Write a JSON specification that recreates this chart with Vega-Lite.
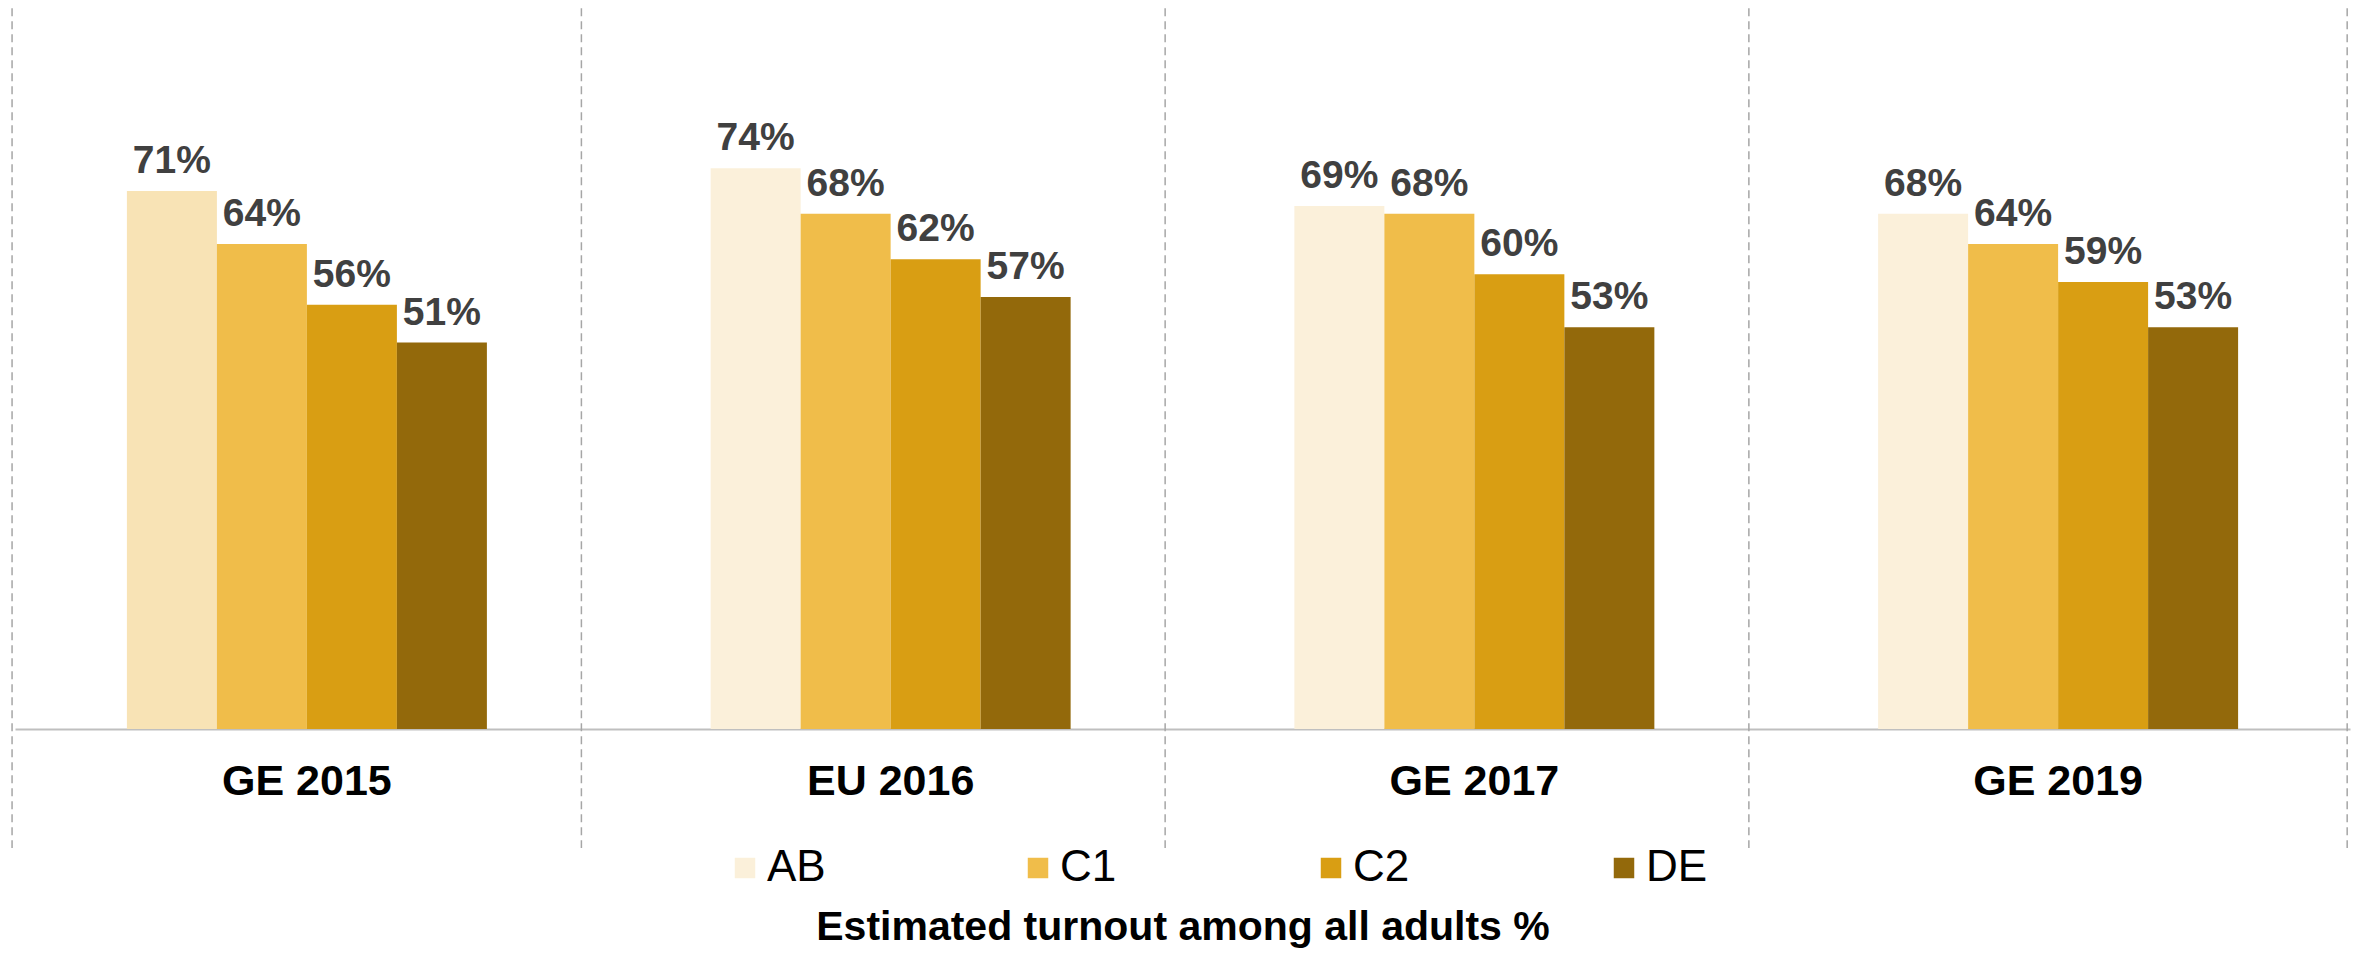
{
  "$schema": "https://vega.github.io/schema/vega-lite/v6.json",
  "autosize": {"type": "none"},
  "padding": {"left": 15, "top": 0, "right": 8, "bottom": 226},
  "width": 2335,
  "height": 729,
  "background": "white",
  "config": {
    "view": {"stroke": null},
    "font": "Liberation Sans"
  },
  "datasets": {
    "turnout": [
      {"election": "GE 2015", "group": "AB", "value": 0.71},
      {"election": "GE 2015", "group": "C1", "value": 0.64},
      {"election": "GE 2015", "group": "C2", "value": 0.56},
      {"election": "GE 2015", "group": "DE", "value": 0.51},
      {"election": "EU 2016", "group": "AB", "value": 0.74},
      {"election": "EU 2016", "group": "C1", "value": 0.68},
      {"election": "EU 2016", "group": "C2", "value": 0.62},
      {"election": "EU 2016", "group": "DE", "value": 0.57},
      {"election": "GE 2017", "group": "AB", "value": 0.69},
      {"election": "GE 2017", "group": "C1", "value": 0.68},
      {"election": "GE 2017", "group": "C2", "value": 0.60},
      {"election": "GE 2017", "group": "DE", "value": 0.53},
      {"election": "GE 2019", "group": "AB", "value": 0.68},
      {"election": "GE 2019", "group": "C1", "value": 0.64},
      {"election": "GE 2019", "group": "C2", "value": 0.59},
      {"election": "GE 2019", "group": "DE", "value": 0.53}
    ]
  },
  "encoding": {
    "x": {
      "field": "election",
      "type": "nominal",
      "sort": ["GE 2015", "EU 2016", "GE 2017", "GE 2019"],
      "scale": {"domain": ["GE 2015", "EU 2016", "GE 2017", "GE 2019"], "paddingInner": 0.3833, "paddingOuter": 0.1917},
      "axis": {
        "title": "Estimated turnout among all adults %",
        "titleFontSize": 41,
        "titleFontWeight": "bold",
        "titleColor": "#000000",
        "titlePadding": 104,
        "labelAngle": 0,
        "labelFontSize": 43,
        "labelFontWeight": "bold",
        "labelColor": "#000000",
        "labelPadding": 31,
        "ticks": false,
        "tickSize": 0,
        "domainColor": "#BFBFBF",
        "domainWidth": 2,
        "grid": false
      }
    }
  },
  "layer": [
    {
      "data": {"name": "turnout"},
      "mark": {"type": "bar"},
      "encoding": {
        "xOffset": {"field": "group", "type": "nominal", "scale": {"paddingInner": 0, "paddingOuter": 0}},
        "y": {"field": "value", "type": "quantitative", "scale": {"domain": [0, 0.962], "nice": false, "zero": true}, "axis": null},
        "color": {
          "condition": {"test": "datum.election === 'GE 2015' && datum.group === 'AB'", "value": "#F8E3B5"},
          "field": "group",
          "type": "nominal",
          "scale": {"domain": ["AB", "C1", "C2", "DE"], "range": ["#FBF0DA", "#F0BD4A", "#D99E13", "#93690B"]},
          "legend": {
            "title": null,
            "orient": "none",
            "direction": "horizontal",
            "columns": 4,
            "legendX": 708,
            "legendY": 846,
            "padding": 0,
            "gridAlign": "all",
            "columnPadding": 187,
            "symbolType": "square",
            "symbolSize": 420,
            "symbolStrokeWidth": 0,
            "labelFontSize": 44,
            "labelColor": "#000000",
            "labelOffset": 0
          }
        }
      }
    },
    {
      "data": {"name": "turnout"},
      "mark": {"type": "text", "baseline": "alphabetic", "dy": -18, "fontSize": 39, "fontWeight": "bold", "color": "#404040"},
      "encoding": {
        "xOffset": {"field": "group", "type": "nominal", "scale": {"paddingInner": 0, "paddingOuter": 0}},
        "y": {"field": "value", "type": "quantitative"},
        "text": {"field": "value", "type": "quantitative", "format": ".0%"}
      }
    },
    {
      "data": {"values": [{"election": "EU 2016"}, {"election": "GE 2017"}, {"election": "GE 2019"}]},
      "mark": {"type": "rule", "color": "#A6A6A6", "strokeWidth": 1.5, "strokeDash": [8, 5]},
      "encoding": {
        "x": {"field": "election", "type": "nominal", "bandPosition": -0.359},
        "y": {"datum": 0.951},
        "y2": {"datum": -0.157}
      }
    },
    {
      "data": {"values": [{"election": "GE 2015"}]},
      "mark": {"type": "rule", "color": "#A6A6A6", "strokeWidth": 1.5, "strokeDash": [8, 5]},
      "encoding": {
        "x": {"field": "election", "type": "nominal", "bandPosition": -0.319},
        "y": {"datum": 0.951},
        "y2": {"datum": -0.157}
      }
    },
    {
      "data": {"values": [{"election": "GE 2019"}]},
      "mark": {"type": "rule", "color": "#A6A6A6", "strokeWidth": 1.5, "strokeDash": [8, 5]},
      "encoding": {
        "x": {"field": "election", "type": "nominal", "bandPosition": 1.303},
        "y": {"datum": 0.951},
        "y2": {"datum": -0.157}
      }
    }
  ]
}
